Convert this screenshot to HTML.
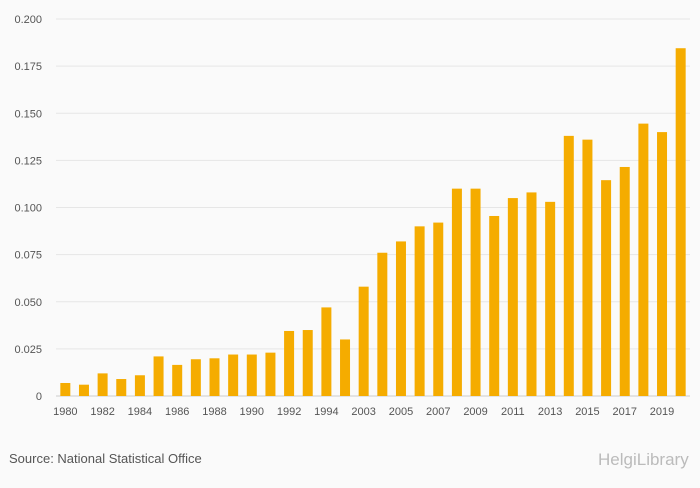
<!DOCTYPE html>
<html><head><meta charset="utf-8"><style>
body{margin:0;background:#fafafa;font-family:"Liberation Sans",sans-serif;}
svg text{font-family:"Liberation Sans",sans-serif;}
</style></head><body>
<svg id="c" width="700" height="483">
<rect width="700" height="483" fill="#fafafa"/>
<g id="grid"></g><g id="bars"></g><g id="xl"></g><g id="yl"></g>
<text x="9" y="463" font-size="13" fill="#555">Source: National Statistical Office</text>
<text x="598" y="465" font-size="17" fill="#bbb">HelgiLibrary</text>
</svg>
<script>
const categories=["1980","1981","1982","1983","1984","1985","1986","1987","1988","1989","1990","1991","1992","1993","1994","1995","2003","2004","2005","2006","2007","2008","2009","2010","2011","2012","2013","2014","2015","2016","2017","2018","2019","2020"];
const values=[0.0069,0.006,0.012,0.009,0.011,0.021,0.0165,0.0195,0.020,0.022,0.022,0.023,0.0345,0.035,0.047,0.030,0.058,0.076,0.082,0.090,0.092,0.110,0.110,0.0955,0.105,0.108,0.103,0.138,0.136,0.1145,0.1215,0.1445,0.140,0.1845];
const yTicks=[0,0.025,0.05,0.075,0.1,0.125,0.15,0.175,0.2];
const yTickLabels=["0","0.025","0.050","0.075","0.100","0.125","0.150","0.175","0.200"];
const NS="http://www.w3.org/2000/svg";
const x0=56,x1=690,y0=396,y1=19,maxV=0.2;
const y=v=>y0-(v/maxV)*(y0-y1);
const step=(x1-x0)/categories.length;
const x=i=>x0+step*(i+0.5);
function mk(t,a,p){const e=document.createElementNS(NS,t);for(const k in a)e.setAttribute(k,a[k]);p.appendChild(e);return e;}
const g=document.getElementById('grid'),yl=document.getElementById('yl'),b=document.getElementById('bars'),xl=document.getElementById('xl');
yTicks.forEach((v,i)=>{
 const l=mk('line',{x1:x0,x2:x1,y1:y(v),y2:y(v),stroke:v===0?'#ccc':'#e6e6e6','stroke-width':1},g);
 
 
 const t=mk('text',{x:42,y:y(v)+4,'text-anchor':'end','font-size':11,fill:'#555'},yl);
 t.textContent=yTickLabels[i];
 
 
});
values.forEach((v,i)=>{
 const r=mk('rect',{x:x(i)-5,y:y(v),width:10,height:y0-y(v),fill:'#f5ac00'},b);
 
 
 if(i%2===0){
  const t=mk('text',{x:x(i),y:415,'text-anchor':'middle','font-size':11,fill:'#555'},xl);
  t.textContent=categories[i];
  
  
 }
});
</script>
</body></html>
